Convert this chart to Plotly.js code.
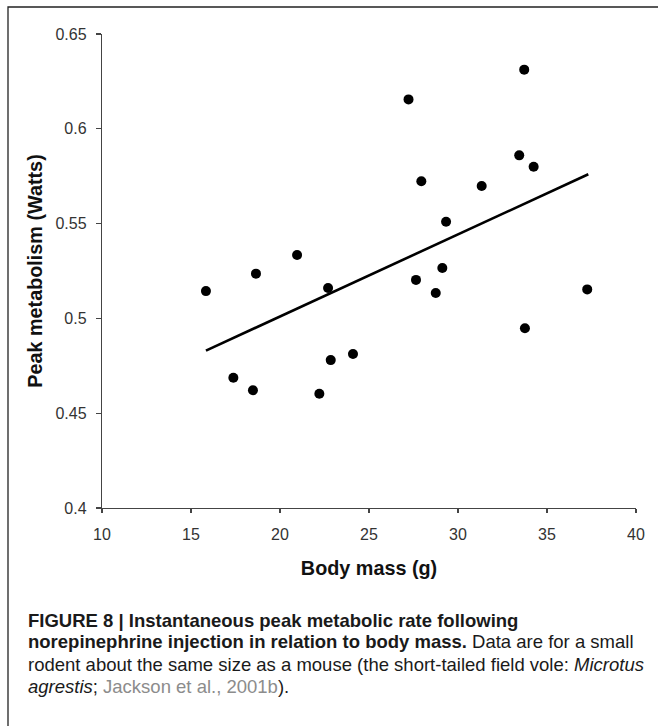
<!DOCTYPE html>
<html>
<head>
<meta charset="utf-8">
<script src="https://cdn.plot.ly/plotly-3.0.1.min.js"></script>
<style>
  html, body { margin: 0; padding: 0; background: #ffffff; }
  #chart { width: 658px; height: 726px; }
</style>
</head>
<body>
<div id="chart"></div>
<script>
// ---- data ----
var bodyMass = [15.84, 17.38, 18.48, 18.65, 20.96, 22.21, 22.70, 22.85, 24.10, 27.22,
                27.64, 27.94, 28.75, 29.12, 29.33, 31.33, 33.44, 33.72, 33.76, 34.25, 37.26];
var peakMetabolism = [0.5144, 0.4687, 0.4621, 0.5236, 0.5334, 0.4603, 0.5160, 0.4780, 0.4812, 0.6155,
                      0.5203, 0.5723, 0.5134, 0.5266, 0.5510, 0.5698, 0.5860, 0.6312, 0.4948, 0.5800, 0.5153];
var trendX = [15.84, 37.32];
var trendY = [0.483, 0.576];
var xTickVals = [10, 15, 20, 25, 30, 35, 40];
var xTickText = ["10", "15", "20", "25", "30", "35", "40"];
var yTickVals = [0.4, 0.45, 0.5, 0.55, 0.6, 0.65];
var yTickText = ["0.4", "0.45", "0.5", "0.55", "0.6", "0.65"];
var xTitle = "Body mass (g)";
var yTitle = "Peak metabolism (Watts)";
var captionLines = [
  "<b>FIGURE 8 | Instantaneous peak metabolic rate following</b>",
  "<b>norepinephrine injection in relation to body mass.</b> Data are for a small",
  "rodent about the same size as a mouse (the short-tailed field vole: <i>Microtus</i>",
  "<i>agrestis</i>; <span style=\"color:#8c8c8c\">Jackson et al., 2001b</span>)."
];

// ---- layout geometry ----
var W = 658, H = 726;
var M = {l: 102, r: 22, t: 34, b: 218};
var PW = W - M.l - M.r, PH = H - M.t - M.b;
function px(xp) { return (xp - M.l) / PW; }
function py(yp) { return (H - M.b - yp) / PH; }

var captionY = [620, 642, 664, 686];
var annotations = captionLines.map(function (t, i) {
  return {
    text: t, xref: 'paper', yref: 'paper', x: px(26), y: py(captionY[i]),
    xanchor: 'left', yanchor: 'middle', showarrow: false, align: 'left',
    font: {family: 'Liberation Sans, Arial, sans-serif', size: 18.5, color: '#1a1a1a'}
  };
});

var traces = [
  {
    x: trendX, y: trendY, type: 'scatter', mode: 'lines',
    line: {color: '#000000', width: 2.6}, hoverinfo: 'skip', showlegend: false
  },
  {
    x: bodyMass, y: peakMetabolism, type: 'scatter', mode: 'markers',
    marker: {color: '#000000', size: 10, line: {width: 0}}, showlegend: false
  }
];

var axisFont = {family: 'Liberation Sans, Arial, sans-serif', size: 16, color: '#333333'};
var titleFont = {family: 'Liberation Sans, Arial, sans-serif', size: 19.8, color: '#111111'};

var layout = {
  width: W, height: H,
  margin: M,
  paper_bgcolor: '#ffffff', plot_bgcolor: '#ffffff',
  showlegend: false,
  xaxis: {
    range: [10, 40], tickvals: xTickVals, ticktext: xTickText,
    showgrid: false, zeroline: false, showline: true, linecolor: '#444444', linewidth: 1.2,
    ticks: 'outside', ticklen: 4, tickwidth: 1.2, tickcolor: '#444444',
    tickfont: axisFont, ticklabelstandoff: 8,
    title: {text: '<b>' + xTitle + '</b>', font: titleFont, standoff: 18},
    automargin: false
  },
  yaxis: {
    range: [0.4, 0.65], tickvals: yTickVals, ticktext: yTickText,
    showgrid: false, zeroline: false, showline: true, linecolor: '#444444', linewidth: 1.2,
    ticks: 'outside', ticklen: 5, tickwidth: 1.2, tickcolor: '#444444',
    tickfont: axisFont, ticklabelstandoff: 6,
    title: {text: '<b>' + yTitle + '</b>', font: titleFont, standoff: 7},
    automargin: false
  },
  shapes: [{
    type: 'rect', xref: 'paper', yref: 'paper', layer: 'below',
    x0: px(8), x1: px(W + 10), y0: py(H + 10), y1: py(7),
    line: {color: '#222222', width: 1.3}, fillcolor: 'rgba(0,0,0,0)'
  }],
  annotations: annotations
};

Plotly.newPlot('chart', traces, layout, {displayModeBar: false, staticPlot: true});
</script>
</body>
</html>
